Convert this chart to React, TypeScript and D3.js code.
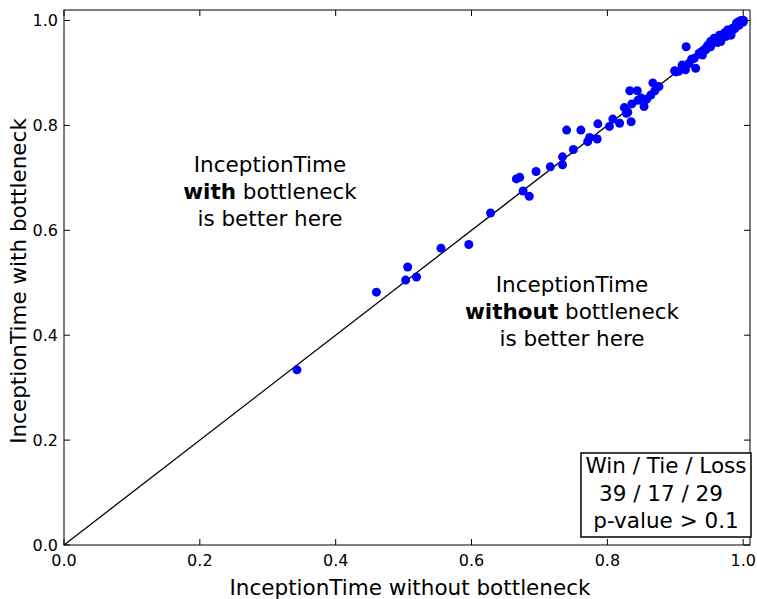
import React from "react";
import * as d3 from "d3";

const xVals = [0.343,0.460,0.503,0.506,0.519,0.555,0.596,0.628,0.666,0.671,0.676,0.685,0.695,0.716,0.734,0.734,0.740,0.750,0.761,0.771,0.774,0.785,0.786,0.803,0.808,0.818,0.825,0.828,0.835,0.833,0.836,0.844,0.850,0.854,0.858,0.864,0.867,0.876,0.899,0.901,0.916,0.915,0.928,0.930,0.935,0.940,0.945,0.948,0.952,0.957,0.965,0.967,0.977,0.982,0.984,0.994,1.0,0.994,1.0,1.0,0.998,0.996,0.990,0.985,0.960,0.962,0.942,0.938,0.924,0.920,0.905,0.830,0.845,0.870,0.910,0.952,0.972,0.975,0.988,0.999,1.0,0.997,0.970,0.955,0.947];
const yVals = [0.334,0.482,0.505,0.530,0.511,0.566,0.573,0.633,0.698,0.701,0.675,0.665,0.712,0.721,0.740,0.725,0.791,0.754,0.791,0.769,0.777,0.774,0.803,0.798,0.812,0.804,0.834,0.823,0.807,0.866,0.841,0.866,0.852,0.836,0.850,0.858,0.881,0.874,0.904,0.902,0.950,0.906,0.928,0.909,0.937,0.934,0.944,0.953,0.960,0.966,0.972,0.960,0.982,0.972,0.985,0.998,1.0,0.991,0.997,1.0,1.0,0.999,0.995,0.982,0.962,0.958,0.944,0.940,0.926,0.918,0.903,0.825,0.848,0.866,0.915,0.950,0.976,0.970,0.985,0.998,0.999,1.0,0.968,0.958,0.950];
const tickVals = [0, 0.2, 0.4, 0.6, 0.8, 1.0];
const tickLabels = ["0.0", "0.2", "0.4", "0.6", "0.8", "1.0"];
const xLabel = "InceptionTime without bottleneck";
const yLabel = "InceptionTime with bottleneck";
const statsLines = ["Win / Tie / Loss", "39 / 17 / 29", "p-value > 0.1"];

const W = 757, H = 599;
const L = 64, R = 750, T = 10, B = 545;
const font = "'DejaVu Sans', sans-serif";
const FS = 21.5;

export default function App() {
  const x = d3.scaleLinear().domain([0, 1.01]).range([L, R]);
  const y = d3.scaleLinear().domain([0, 1.02]).range([B, T]);
  const tl = 6;
  return (
    <svg width={W} height={H} style={{ position: "absolute", left: 0, top: 0, fontFamily: font }}>
      <rect x={0} y={0} width={W} height={H} fill="#fff" />
      <defs>
        <clipPath id="pc"><rect x={L} y={T} width={R - L} height={B - T} /></clipPath>
      </defs>
      <g clipPath="url(#pc)">
        <line x1={x(0)} y1={y(0)} x2={x(1)} y2={y(1)} stroke="#000" strokeWidth={1.3} />
        {xVals.map((v, i) => (
          <circle key={i} cx={x(v)} cy={y(yVals[i])} r={4.5} fill="#0000ff" />
        ))}
      </g>
      <rect x={L} y={T} width={R - L} height={B - T} fill="none" stroke="#000" strokeWidth={1} />
      {tickVals.map((t, i) => (
        <g key={i}>
          <line x1={x(t)} x2={x(t)} y1={B} y2={B - tl} stroke="#000" />
          <line x1={x(t)} x2={x(t)} y1={T} y2={T + tl} stroke="#000" />
          <line x1={L} x2={L + tl} y1={y(t)} y2={y(t)} stroke="#000" />
          <line x1={R} x2={R - tl} y1={y(t)} y2={y(t)} stroke="#000" />
          <text x={x(t)} y={566} fontSize={16} textAnchor="middle">{tickLabels[i]}</text>
          <text x={L - 6} y={y(t) + 6} fontSize={16} textAnchor="end">{tickLabels[i]}</text>
        </g>
      ))}
      <text x={410} y={595} fontSize={FS} textAnchor="middle">{xLabel}</text>
      <text transform={`translate(26,281) rotate(-90)`} fontSize={FS} textAnchor="middle">{yLabel}</text>
      <g fontSize={FS} textAnchor="middle">
        <text x={270} y={172}>InceptionTime</text>
        <text x={270} y={199}><tspan fontWeight="bold">with</tspan> bottleneck</text>
        <text x={270} y={226}>is better here</text>
        <text x={572} y={292}>InceptionTime</text>
        <text x={572} y={319}><tspan fontWeight="bold">without</tspan> bottleneck</text>
        <text x={572} y={346}>is better here</text>
      </g>
      <rect x={581} y={453} width={170} height={84} fill="#fff" stroke="#000" strokeWidth={1.5} />
      <g fontSize={FS} textAnchor="middle">
        <text x={666} y={473}>{statsLines[0]}</text>
        <text x={661} y={501}>{statsLines[1]}</text>
        <text x={666} y={528}>{statsLines[2]}</text>
      </g>
    </svg>
  );
}
